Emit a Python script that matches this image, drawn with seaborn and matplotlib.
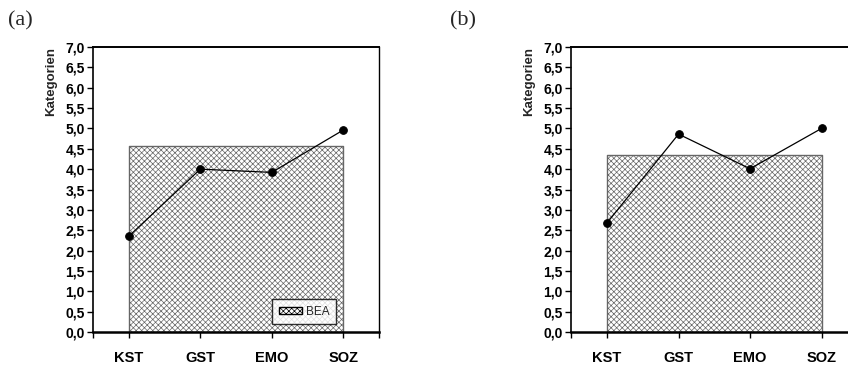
import matplotlib
matplotlib.use("Agg")
import matplotlib.pyplot as plt
import seaborn as sns
import pandas as pd

categories = ["KST", "GST", "EMO", "SOZ"]
values_a = [2.35, 4.00, 3.92, 4.96]
values_b = [2.68, 4.86, 4.01, 5.00]
bea_a = 4.58
bea_b = 4.34
yticks = [i * 0.5 for i in range(15)]
ytick_labels = [f"{v:.1f}".replace(".", ",") for v in yticks]
panel_labels = ["(a)", "(b)"]
legend_label = "BEA"

sns.set_style("white")
plt.rcParams['font.family'] = ['Liberation Sans', 'DejaVu Sans']
plt.rcParams['hatch.color'] = '#bdbdbd'
plt.rcParams['hatch.linewidth'] = 0.5

fig = plt.figure(figsize=(8.48, 3.65), dpi=100)
W = 286 / 848
H = 285 / 365
B = 1 - 332 / 365
axes = [fig.add_axes([93 / 848, B, W, H]), fig.add_axes([571.3 / 848, B, W, H])]

for i, (ax, vals, bea) in enumerate(zip(axes, [values_a, values_b], [bea_a, bea_b])):
    df = pd.DataFrame({"cat": categories, "val": vals})
    ax.fill_between(range(len(categories)), 0, [bea] * len(categories),
                    facecolor='white', edgecolor='#666666', hatch='xxxxxx',
                    linewidth=1.0, label=legend_label, zorder=1)
    sns.lineplot(data=df, x="cat", y="val", ax=ax, color='black', linewidth=0.9,
                 marker='o', markersize=5.5, markeredgecolor='black',
                 markerfacecolor='black', sort=False, zorder=3, legend=False)
    ax.set_xlim(-0.5, len(categories) - 0.5)
    ax.set_ylim(0, 7)
    ax.set_yticks(yticks)
    ax.set_yticklabels(ytick_labels, fontsize=10, fontweight='bold')
    xt = [-0.5] + list(range(len(categories))) + [len(categories) - 0.5]
    ax.set_xticks(xt)
    ax.set_xticklabels([""] + categories + [""], fontsize=10.5, fontweight='bold')
    ax.tick_params(axis='both', direction='out', length=4, width=1, colors='black',
                   left=True, bottom=True)
    ax.tick_params(axis='x', pad=10)
    ax.tick_params(axis='y', pad=2)
    ax.set_xlabel("")
    ax.set_ylabel("Kategorien", fontsize=9.5, fontweight='bold', labelpad=6, loc='top')
    for s in ['left', 'right', 'top', 'bottom']:
        ax.spines[s].set_visible(True)
        ax.spines[s].set_color('black')
    ax.spines['bottom'].set_linewidth(1.8)
    ax.spines['top'].set_linewidth(1.4)
    ax.spines['left'].set_linewidth(1.2)
    ax.spines['right'].set_linewidth(1.0)
    fig.text([8 / 848, 450 / 848][i], 1 - 21 / 365, panel_labels[i],
             fontsize=16, family='Liberation Serif', va='center', ha='left')

leg = axes[0].legend(loc='lower right', bbox_to_anchor=(0.85, 0.028), borderaxespad=0,
                     frameon=True, fancybox=False, edgecolor='black',
                     handlelength=2.0, handleheight=0.6, borderpad=0.55,
                     handletextpad=0.3, prop={'family': 'Liberation Sans', 'size': 8.5})
leg.get_frame().set_linewidth(1.0)
for h in leg.legend_handles:
    h.set_edgecolor('black')

fig.savefig("out.png", dpi=100)
